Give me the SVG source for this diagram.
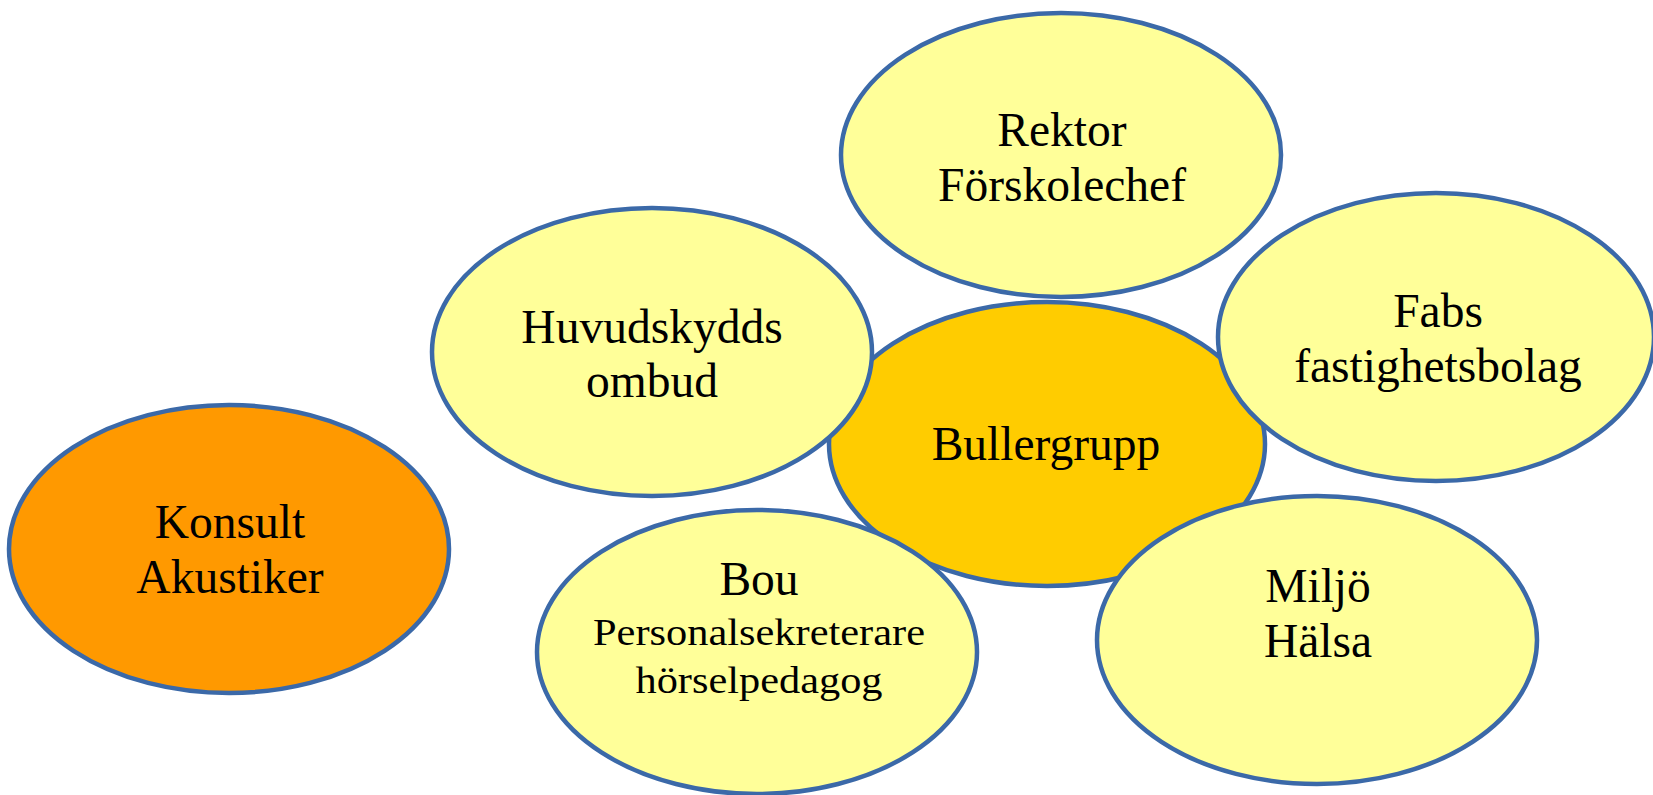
<svg xmlns="http://www.w3.org/2000/svg" width="1653" height="795" viewBox="0 0 1653 795">
<style>
ellipse{stroke:#3B69A8;stroke-width:4.5}
.y{fill:#FFFF99}
.c{fill:#FFCC00}
.o{fill:#FF9900}
text{font-family:"Liberation Serif","Times New Roman",serif;font-size:47.5px;fill:#000;text-anchor:middle}
.s{font-size:38px}
</style>
<rect width="1653" height="795" fill="#fff"/>
<g id="connectors"></g>
<g id="bullergrupp">
<ellipse class="c" cx="1047" cy="444" rx="218" ry="142"/>
<text x="1046" y="460">Bullergrupp</text>
</g>
<g id="rektor">
<ellipse class="y" cx="1061" cy="155" rx="220" ry="142"/>
<text x="1062" y="146">Rektor</text>
<text x="1062" y="201">Förskolechef</text>
</g>
<g id="huvudskydds">
<ellipse class="y" cx="652" cy="352" rx="220" ry="144"/>
<text x="652" y="343">Huvudskydds</text>
<text x="652" y="397">ombud</text>
</g>
<g id="fabs">
<ellipse class="y" cx="1436" cy="337" rx="218" ry="144"/>
<text x="1438" y="327">Fabs</text>
<text x="1438" y="382">fastighetsbolag</text>
</g>
<g id="konsult">
<ellipse class="o" cx="229" cy="549" rx="220" ry="144"/>
<text x="230" y="538">Konsult</text>
<text x="230" y="593">Akustiker</text>
</g>
<g id="bou">
<ellipse class="y" cx="757" cy="652" rx="220" ry="142"/>
<text x="759" y="595">Bou</text>
<text class="s" x="759" y="645" textLength="332" lengthAdjust="spacingAndGlyphs">Personalsekreterare</text>
<text class="s" x="759" y="693" textLength="247" lengthAdjust="spacingAndGlyphs">hörselpedagog</text>
</g>
<g id="miljo">
<ellipse class="y" cx="1317" cy="640" rx="220" ry="144"/>
<text x="1318" y="602">Miljö</text>
<text x="1318" y="657">Hälsa</text>
</g>
</svg>
